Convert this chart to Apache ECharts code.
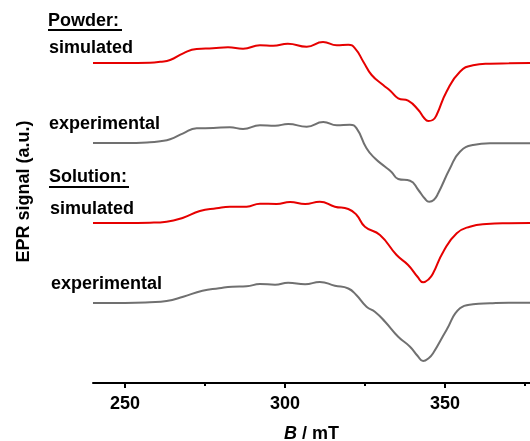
<!DOCTYPE html>
<html>
<head>
<meta charset="utf-8">
<script src="https://cdn.jsdelivr.net/npm/echarts@6/dist/echarts.min.js"></script>
<style>html,body{margin:0;padding:0;background:#fff}#c{width:530px;height:441px}</style>
</head>
<body>
<div id="c"></div>
<script>
// Magnetic field (mT) and signal (a.u.) for each trace
var powderSimB = [240, 250, 257.8, 261, 264.1, 268.2, 272.4, 277.5, 282.2, 286.9, 292.2, 296.3, 300.9, 306.8, 311.9, 316.2, 319.8, 321.9, 324.5, 327.1, 330.7, 333, 335.4, 338.5, 341.7, 343.5, 344.8, 346.2, 347.4, 350.5, 354.7, 358.8, 364.1, 370, 376.6];
var powderSimY = [0, 0, 0.3, 1.2, 3, 9.7, 14, 14.7, 15.7, 14.3, 17.7, 17.3, 19.3, 16.3, 21, 17.7, 18.3, 14.7, 1.3, -12, -22, -28, -35.3, -37.7, -47, -55, -58, -57, -52, -28.7, -8.7, -2.3, -0.7, -0.3, 0];

var powderExpB = [240, 250, 257.8, 261, 264.1, 268.2, 272.4, 277.6, 282.8, 286.9, 292.2, 296.9, 301, 306.8, 312, 316.2, 320.3, 322.4, 325.5, 328.1, 331.3, 333.3, 335.4, 339.1, 341.7, 343.7, 345.1, 346.5, 347.9, 351.6, 354.7, 358.8, 364.1, 370, 376.6];
var powderExpY = [0, 0, 0.7, 1.8, 3.7, 9.7, 14.7, 15, 15.7, 14, 17.7, 17.3, 19, 16.3, 21, 17.7, 18.3, 14.7, -5.3, -15.3, -23.7, -29, -36, -37.7, -47, -55.5, -58.7, -57, -50.3, -25.3, -8.7, -2, -0.3, -0.3, -0.3];

var solSimB = [240, 250, 257.8, 263, 268.2, 273.4, 278.6, 282.8, 288, 292.2, 297.4, 301.6, 306.3, 310.9, 315.6, 319.8, 322.4, 325, 329.7, 334.9, 338.5, 341.5, 343.2, 345, 346.3, 349.5, 353.7, 357.8, 363, 370, 376.6];
var solSimY = [0, 0, 0.3, 1.3, 5.3, 12, 14.7, 16.3, 16.3, 19.3, 19, 21, 19, 21.3, 16.3, 14, 8, -3.7, -12, -32, -42, -54, -59.3, -56, -50.3, -28.7, -10.3, -3.7, -1, -0.2, 0];

var solExpB = [240, 250, 257.8, 263, 268.2, 274.2, 279.4, 283.5, 288, 292.2, 296.9, 301, 306.3, 310.9, 315.6, 319.8, 322.3, 325.5, 328.1, 331.3, 335.4, 339.1, 341.5, 343.2, 345, 346.3, 350.5, 354.7, 358.8, 364.1, 370, 376.6];
var solExpY = [0, 0, 0.7, 2, 6.3, 12.3, 14.7, 16.3, 16.7, 19, 18.3, 20.3, 18.7, 21, 17.3, 14.5, 8, -3.7, -8.7, -18.7, -33.7, -43.7, -53, -58, -55, -50.3, -27, -5.3, -1.3, -0.3, 0.3, 0.3];

// vertical stacking offsets of the four traces
var traceOffsets = [320, 240, 160, 80];

var majorTicks = [250, 300, 350];
var minorTicks = [275, 325, 375];

function pairs(bs, ys, off) {
  return bs.map(function (b, i) { return [b, ys[i] + off]; });
}

var FONT = '"Liberation Sans", Arial, sans-serif';
var RED = '#e60000', GREY = '#707070';

function mkLine(name, data, color) {
  return {
    name: name, type: 'line', data: data, symbol: 'none', smooth: 0.5,
    lineStyle: { color: color, width: 2 }, silent: true, animation: false
  };
}

var chart = echarts.init(document.getElementById('c'), null, { renderer: 'canvas' });
var xBase = { type: 'value', min: 240, max: 376.6, position: 'bottom', splitLine: { show: false } };
chart.setOption({
  backgroundColor: '#fff',
  animation: false,
  grid: { left: 93, right: 0, top: 0, bottom: 58, containLabel: false, outerBoundsMode: 'none' },
  xAxis: [
    Object.assign({}, xBase, {
      axisLine: { show: true, lineStyle: { color: '#000', width: 2 } },
      axisTick: { show: true, customValues: majorTicks, length: 5, lineStyle: { color: '#000', width: 2 } },
      axisLabel: { show: true, customValues: majorTicks, margin: 12, color: '#000', fontSize: 18, fontWeight: 'bold', fontFamily: FONT },
      name: '{i|B} / mT', nameLocation: 'middle', nameGap: 42,
      nameTextStyle: { color: '#000', fontSize: 18, fontWeight: 'bold', fontFamily: FONT,
        rich: { i: { fontStyle: 'italic', fontWeight: 'bold', fontSize: 18, fontFamily: FONT, color: '#000' } } }
    }),
    Object.assign({}, xBase, {
      axisLine: { show: false },
      axisTick: { show: true, customValues: minorTicks, length: 3, lineStyle: { color: '#000', width: 2 } },
      axisLabel: { show: false }
    })
  ],
  yAxis: {
    type: 'value', min: 0, max: 383, show: true,
    axisLine: { show: false }, axisTick: { show: false }, axisLabel: { show: false }, splitLine: { show: false },
    name: 'EPR signal (a.u.)', nameLocation: 'middle', nameGap: 60, nameRotate: 90,
    nameTextStyle: { color: '#000', fontSize: 18, fontWeight: 'bold', fontFamily: FONT }
  },
  series: [
    mkLine('Powder simulated', pairs(powderSimB, powderSimY, traceOffsets[0]), RED),
    mkLine('Powder experimental', pairs(powderExpB, powderExpY, traceOffsets[1]), GREY),
    mkLine('Solution simulated', pairs(solSimB, solSimY, traceOffsets[2]), RED),
    mkLine('Solution experimental', pairs(solExpB, solExpY, traceOffsets[3]), GREY)
  ],
  graphic: [
    { type: 'text', left: 48, top: 12, style: { text: 'Powder:', fill: '#000', font: 'bold 18px ' + FONT } },
    { type: 'line', shape: { x1: 48, y1: 30, x2: 122, y2: 30 }, style: { stroke: '#000', lineWidth: 2 } },
    { type: 'text', left: 49, top: 39, style: { text: 'simulated', fill: '#000', font: 'bold 18px ' + FONT } },
    { type: 'text', left: 49, top: 115, style: { text: 'experimental', fill: '#000', font: 'bold 18px ' + FONT } },
    { type: 'text', left: 49, top: 168, style: { text: 'Solution:', fill: '#000', font: 'bold 18px ' + FONT } },
    { type: 'line', shape: { x1: 49, y1: 187, x2: 129, y2: 187 }, style: { stroke: '#000', lineWidth: 2 } },
    { type: 'text', left: 50, top: 200, style: { text: 'simulated', fill: '#000', font: 'bold 18px ' + FONT } },
    { type: 'text', left: 51, top: 275, style: { text: 'experimental', fill: '#000', font: 'bold 18px ' + FONT } }
  ]
});
</script>
</body>
</html>
